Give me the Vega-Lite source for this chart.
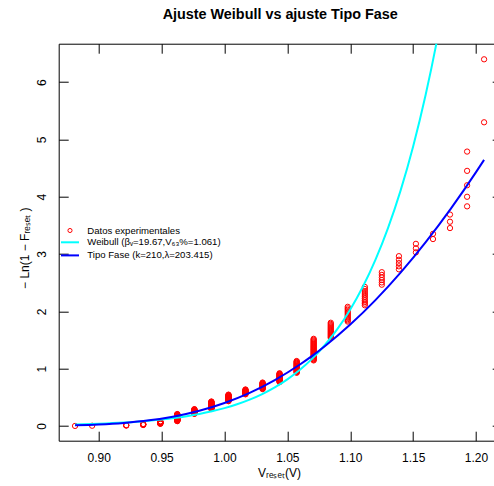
{
"$schema": "https://vega.github.io/schema/vega-lite/v6.json",
"width": 443,
"height": 397,
"autosize": "none",
"padding": {"left": 58.7, "top": 43.7, "right": 0, "bottom": 45.3},
"background": "#ffffff",
"title": {"text": "Ajuste Weibull vs ajuste Tipo Fase", "font": "Liberation Sans", "fontSize": 14.4, "fontWeight": "bold", "color": "#000000", "anchor": "middle", "frame": "group", "baseline": "alphabetic", "offset": 10.1},
"config": {
  "view": {"stroke": "#000000", "strokeWidth": 1},
  "font": "Liberation Sans",
  "axis": {"domain": false, "grid": false, "ticks": true, "tickColor": "#000000", "tickWidth": 1, "labelFont": "Liberation Sans", "labelFontSize": 12, "labelColor": "#000000", "titleFont": "Liberation Sans", "titleFontSize": 12, "titleFontWeight": "normal", "titleColor": "#000000", "labelFlush": false, "labelOverlap": false},
  "legend": {"labelFont": "Liberation Sans", "labelColor": "#000000"}
},
"datasets": {
"pts": [
{"v":0.8812,"y":0.0017},
{"v":0.8948,"y":0.0050},
{"v":0.9219,"y":0.0084},{"v":0.9219,"y":0.0117},{"v":0.9219,"y":0.0151},
{"v":0.9354,"y":0.0185},{"v":0.9354,"y":0.0219},{"v":0.9354,"y":0.0253},{"v":0.9354,"y":0.0287},{"v":0.9354,"y":0.0322},{"v":0.9354,"y":0.0356},
{"v":0.9490,"y":0.0391},{"v":0.9490,"y":0.0426},{"v":0.9490,"y":0.0460},{"v":0.9490,"y":0.0495},{"v":0.9490,"y":0.0530},{"v":0.9490,"y":0.0566},{"v":0.9490,"y":0.0601},{"v":0.9490,"y":0.0636},{"v":0.9490,"y":0.0672},{"v":0.9490,"y":0.0708},{"v":0.9490,"y":0.0744},{"v":0.9490,"y":0.0780},{"v":0.9490,"y":0.0816},
{"v":0.9625,"y":0.0852},{"v":0.9625,"y":0.0888},{"v":0.9625,"y":0.0925},{"v":0.9625,"y":0.0962},{"v":0.9625,"y":0.0998},{"v":0.9625,"y":0.1035},{"v":0.9625,"y":0.1072},{"v":0.9625,"y":0.1109},{"v":0.9625,"y":0.1147},{"v":0.9625,"y":0.1184},{"v":0.9625,"y":0.1222},{"v":0.9625,"y":0.1259},{"v":0.9625,"y":0.1297},{"v":0.9625,"y":0.1335},{"v":0.9625,"y":0.1373},{"v":0.9625,"y":0.1412},{"v":0.9625,"y":0.1450},{"v":0.9625,"y":0.1489},{"v":0.9625,"y":0.1528},{"v":0.9625,"y":0.1566},{"v":0.9625,"y":0.1606},{"v":0.9625,"y":0.1645},{"v":0.9625,"y":0.1684},{"v":0.9625,"y":0.1724},{"v":0.9625,"y":0.1763},{"v":0.9625,"y":0.1803},{"v":0.9625,"y":0.1843},{"v":0.9625,"y":0.1883},{"v":0.9625,"y":0.1924},{"v":0.9625,"y":0.1964},{"v":0.9625,"y":0.2005},{"v":0.9625,"y":0.2046},{"v":0.9625,"y":0.2087},
{"v":0.9761,"y":0.2128},{"v":0.9761,"y":0.2169},{"v":0.9761,"y":0.2211},{"v":0.9761,"y":0.2252},{"v":0.9761,"y":0.2294},{"v":0.9761,"y":0.2336},{"v":0.9761,"y":0.2378},{"v":0.9761,"y":0.2421},{"v":0.9761,"y":0.2463},{"v":0.9761,"y":0.2506},{"v":0.9761,"y":0.2549},{"v":0.9761,"y":0.2592},{"v":0.9761,"y":0.2635},{"v":0.9761,"y":0.2679},{"v":0.9761,"y":0.2722},{"v":0.9761,"y":0.2766},{"v":0.9761,"y":0.2810},{"v":0.9761,"y":0.2854},{"v":0.9761,"y":0.2899},{"v":0.9761,"y":0.2943},
{"v":0.9896,"y":0.2988},{"v":0.9896,"y":0.3033},{"v":0.9896,"y":0.3078},{"v":0.9896,"y":0.3124},{"v":0.9896,"y":0.3169},{"v":0.9896,"y":0.3215},{"v":0.9896,"y":0.3261},{"v":0.9896,"y":0.3307},{"v":0.9896,"y":0.3354},{"v":0.9896,"y":0.3401},{"v":0.9896,"y":0.3448},{"v":0.9896,"y":0.3495},{"v":0.9896,"y":0.3542},{"v":0.9896,"y":0.3590},{"v":0.9896,"y":0.3638},{"v":0.9896,"y":0.3686},{"v":0.9896,"y":0.3734},{"v":0.9896,"y":0.3783},{"v":0.9896,"y":0.3831},{"v":0.9896,"y":0.3880},{"v":0.9896,"y":0.3930},{"v":0.9896,"y":0.3979},{"v":0.9896,"y":0.4029},{"v":0.9896,"y":0.4079},{"v":0.9896,"y":0.4129},{"v":0.9896,"y":0.4180},{"v":0.9896,"y":0.4230},{"v":0.9896,"y":0.4281},
{"v":1.0032,"y":0.4333},{"v":1.0032,"y":0.4384},{"v":1.0032,"y":0.4436},{"v":1.0032,"y":0.4488},{"v":1.0032,"y":0.4540},{"v":1.0032,"y":0.4593},{"v":1.0032,"y":0.4646},{"v":1.0032,"y":0.4699},{"v":1.0032,"y":0.4753},{"v":1.0032,"y":0.4806},{"v":1.0032,"y":0.4861},{"v":1.0032,"y":0.4915},{"v":1.0032,"y":0.4970},{"v":1.0032,"y":0.5024},{"v":1.0032,"y":0.5080},{"v":1.0032,"y":0.5135},{"v":1.0032,"y":0.5191},{"v":1.0032,"y":0.5247},{"v":1.0032,"y":0.5304},{"v":1.0032,"y":0.5361},{"v":1.0032,"y":0.5418},{"v":1.0032,"y":0.5475},
{"v":1.0167,"y":0.5533},{"v":1.0167,"y":0.5591},{"v":1.0167,"y":0.5650},{"v":1.0167,"y":0.5708},{"v":1.0167,"y":0.5768},{"v":1.0167,"y":0.5827},{"v":1.0167,"y":0.5887},{"v":1.0167,"y":0.5947},{"v":1.0167,"y":0.6008},{"v":1.0167,"y":0.6069},{"v":1.0167,"y":0.6130},{"v":1.0167,"y":0.6192},{"v":1.0167,"y":0.6254},{"v":1.0167,"y":0.6317},{"v":1.0167,"y":0.6380},
{"v":1.0303,"y":0.6443},{"v":1.0303,"y":0.6507},{"v":1.0303,"y":0.6571},{"v":1.0303,"y":0.6635},{"v":1.0303,"y":0.6700},{"v":1.0303,"y":0.6766},{"v":1.0303,"y":0.6831},{"v":1.0303,"y":0.6898},{"v":1.0303,"y":0.6964},{"v":1.0303,"y":0.7031},{"v":1.0303,"y":0.7099},{"v":1.0303,"y":0.7167},{"v":1.0303,"y":0.7235},{"v":1.0303,"y":0.7304},{"v":1.0303,"y":0.7374},{"v":1.0303,"y":0.7444},{"v":1.0303,"y":0.7514},{"v":1.0303,"y":0.7585},
{"v":1.0438,"y":0.7656},{"v":1.0438,"y":0.7728},{"v":1.0438,"y":0.7801},{"v":1.0438,"y":0.7874},{"v":1.0438,"y":0.7947},{"v":1.0438,"y":0.8021},{"v":1.0438,"y":0.8096},{"v":1.0438,"y":0.8171},{"v":1.0438,"y":0.8247},{"v":1.0438,"y":0.8323},{"v":1.0438,"y":0.8400},{"v":1.0438,"y":0.8478},{"v":1.0438,"y":0.8556},{"v":1.0438,"y":0.8635},{"v":1.0438,"y":0.8714},{"v":1.0438,"y":0.8794},{"v":1.0438,"y":0.8875},{"v":1.0438,"y":0.8956},{"v":1.0438,"y":0.9038},{"v":1.0438,"y":0.9121},{"v":1.0438,"y":0.9204},
{"v":1.0574,"y":0.9288},{"v":1.0574,"y":0.9373},{"v":1.0574,"y":0.9458},{"v":1.0574,"y":0.9544},{"v":1.0574,"y":0.9631},{"v":1.0574,"y":0.9719},{"v":1.0574,"y":0.9808},{"v":1.0574,"y":0.9897},{"v":1.0574,"y":0.9987},{"v":1.0574,"y":1.0078},{"v":1.0574,"y":1.0170},{"v":1.0574,"y":1.0262},{"v":1.0574,"y":1.0356},{"v":1.0574,"y":1.0450},{"v":1.0574,"y":1.0545},{"v":1.0574,"y":1.0641},{"v":1.0574,"y":1.0738},{"v":1.0574,"y":1.0836},{"v":1.0574,"y":1.0935},{"v":1.0574,"y":1.1035},{"v":1.0574,"y":1.1136},{"v":1.0574,"y":1.1238},{"v":1.0574,"y":1.1341},
{"v":1.0709,"y":1.1445},{"v":1.0709,"y":1.1550},{"v":1.0709,"y":1.1657},{"v":1.0709,"y":1.1764},{"v":1.0709,"y":1.1873},{"v":1.0709,"y":1.1983},{"v":1.0709,"y":1.2094},{"v":1.0709,"y":1.2206},{"v":1.0709,"y":1.2320},{"v":1.0709,"y":1.2435},{"v":1.0709,"y":1.2551},{"v":1.0709,"y":1.2669},{"v":1.0709,"y":1.2788},{"v":1.0709,"y":1.2908},{"v":1.0709,"y":1.3030},{"v":1.0709,"y":1.3154},{"v":1.0709,"y":1.3279},{"v":1.0709,"y":1.3405},{"v":1.0709,"y":1.3533},{"v":1.0709,"y":1.3663},{"v":1.0709,"y":1.3795},{"v":1.0709,"y":1.3928},{"v":1.0709,"y":1.4063},{"v":1.0709,"y":1.4200},{"v":1.0709,"y":1.4339},{"v":1.0709,"y":1.4480},{"v":1.0709,"y":1.4623},{"v":1.0709,"y":1.4768},{"v":1.0709,"y":1.4915},{"v":1.0709,"y":1.5064},{"v":1.0709,"y":1.5216},
{"v":1.0845,"y":1.5370},{"v":1.0845,"y":1.5526},{"v":1.0845,"y":1.5685},{"v":1.0845,"y":1.5846},{"v":1.0845,"y":1.6010},{"v":1.0845,"y":1.6177},{"v":1.0845,"y":1.6346},{"v":1.0845,"y":1.6518},{"v":1.0845,"y":1.6694},{"v":1.0845,"y":1.6872},{"v":1.0845,"y":1.7054},{"v":1.0845,"y":1.7239},{"v":1.0845,"y":1.7428},{"v":1.0845,"y":1.7620},{"v":1.0845,"y":1.7816},{"v":1.0845,"y":1.8016},
{"v":1.0980,"y":1.8222},{"v":1.0980,"y":1.8430},{"v":1.0980,"y":1.8643},{"v":1.0980,"y":1.8860},{"v":1.0980,"y":1.9082},{"v":1.0980,"y":1.9310},{"v":1.0980,"y":1.9542},{"v":1.0980,"y":1.9780},{"v":1.0980,"y":2.0025},{"v":1.0980,"y":2.0274},{"v":1.0980,"y":2.0531},{"v":1.0980,"y":2.0794},
{"v":1.1116,"y":2.1066},{"v":1.1116,"y":2.1342},{"v":1.1116,"y":2.1628},{"v":1.1116,"y":2.1922},{"v":1.1116,"y":2.2225},{"v":1.1116,"y":2.2538},{"v":1.1116,"y":2.2860},{"v":1.1116,"y":2.3194},{"v":1.1116,"y":2.3539},{"v":1.1116,"y":2.3896},{"v":1.1116,"y":2.4267},
{"v":1.1251,"y":2.4651},{"v":1.1251,"y":2.5051},{"v":1.1251,"y":2.5468},{"v":1.1251,"y":2.5903},{"v":1.1251,"y":2.6357},{"v":1.1251,"y":2.6834},
{"v":1.1387,"y":2.7334},{"v":1.1387,"y":2.7860},{"v":1.1387,"y":2.8416},{"v":1.1387,"y":2.9004},{"v":1.1387,"y":2.9630},
{"v":1.1522,"y":3.0297},{"v":1.1522,"y":3.1011},{"v":1.1522,"y":3.1781},
{"v":1.1658,"y":3.2614},{"v":1.1658,"y":3.3524},
{"v":1.1793,"y":3.4532},{"v":1.1793,"y":3.5636},{"v":1.1793,"y":3.6889},
{"v":1.1929,"y":3.8320},{"v":1.1929,"y":3.9990},{"v":1.1929,"y":4.1997},{"v":1.1929,"y":4.4510},{"v":1.1929,"y":4.7875},
{"v":1.2064,"y":5.2983},{"v":1.2064,"y":6.3969}
],
"curves": [
{"m":"W","v":0.8812,"y":0.0259},{"m":"W","v":0.90,"y":0.0393},{"m":"W","v":0.92,"y":0.0605},{"m":"W","v":0.94,"y":0.0924},{"m":"W","v":0.95,"y":0.1138},{"m":"W","v":0.96,"y":0.1398},{"m":"W","v":0.97,"y":0.1714},{"m":"W","v":0.98,"y":0.2097},{"m":"W","v":0.99,"y":0.2561},{"m":"W","v":1.00,"y":0.3120},{"m":"W","v":1.01,"y":0.3795},{"m":"W","v":1.02,"y":0.4607},{"m":"W","v":1.03,"y":0.5581},{"m":"W","v":1.04,"y":0.6749},{"m":"W","v":1.05,"y":0.8146},{"m":"W","v":1.06,"y":0.9816},{"m":"W","v":1.07,"y":1.1807},{"m":"W","v":1.08,"y":1.4178},{"m":"W","v":1.09,"y":1.6996},{"m":"W","v":1.10,"y":2.0342},{"m":"W","v":1.11,"y":2.4304},{"m":"W","v":1.12,"y":2.8993},{"m":"W","v":1.13,"y":3.4533},{"m":"W","v":1.14,"y":4.1066},{"m":"W","v":1.15,"y":4.8764},{"m":"W","v":1.16,"y":5.7818},{"m":"W","v":1.17,"y":6.8458},{"m":"W","v":1.18,"y":8.0927},
{"m":"F","v":0.8812,"y":0.0136},{"m":"F","v":0.90,"y":0.0278},{"m":"F","v":0.92,"y":0.0546},{"m":"F","v":0.94,"y":0.0991},{"m":"F","v":0.96,"y":0.1677},{"m":"F","v":0.98,"y":0.2669},{"m":"F","v":1.00,"y":0.4024},{"m":"F","v":1.02,"y":0.5794},{"m":"F","v":1.04,"y":0.8021},{"m":"F","v":1.06,"y":1.0734},{"m":"F","v":1.07,"y":1.2279},{"m":"F","v":1.08,"y":1.3952},{"m":"F","v":1.10,"y":1.7692},{"m":"F","v":1.12,"y":2.1957},{"m":"F","v":1.14,"y":2.6754},{"m":"F","v":1.16,"y":3.2076},{"m":"F","v":1.18,"y":3.7921},{"m":"F","v":1.20,"y":4.4286},{"m":"F","v":1.2064,"y":4.6429}
]
},
"layer": [
{
  "data": {"name": "pts"},
  "mark": {"type": "point", "filled": false, "size": 28, "strokeWidth": 1, "opacity": 1},
  "encoding": {
    "x": {"field": "v", "type": "quantitative", "scale": {"domain": [0.8682, 1.2204], "nice": false, "zero": false},
      "axis": {"orient": "bottom", "values": [0.9, 0.95, 1, 1.05, 1.1, 1.15, 1.2], "format": ".2f", "tickSize": -9.5, "labelPadding": 30.1, "labelBaseline": "alphabetic", "title": "Vᵣₑₛₑₜ(V)", "titleX": 220.3, "titleY": 35.8, "titleAlign": "center", "titleBaseline": "alphabetic"}},
    "y": {"field": "y", "type": "quantitative", "scale": {"domain": [-0.2558, 6.669], "nice": false, "zero": false},
      "axis": {"orient": "left", "values": [0, 1, 2, 3, 4, 5, 6], "format": "d", "tickSize": -9.5, "labelPadding": 22.2, "labelAngle": 270, "labelAlign": "center", "labelBaseline": "alphabetic", "title": "− Ln(1 − Fᵣₑₛₑₜ )", "titleX": -30.4, "titleY": 204, "titleAngle": 270, "titleAlign": "center", "titleBaseline": "alphabetic"}},
    "color": {"datum": "Datos experimentales", "type": "nominal", "scale": {"range": ["#FF0000"]},
      "legend": {"title": null, "orient": "none", "legendX": 6.5, "legendY": 182, "padding": 0, "symbolType": "circle", "symbolSize": 17, "symbolStrokeWidth": 1, "symbolFillColor": "transparent", "labelFontSize": 9.6, "labelOffset": 12.5, "rowPadding": 2.1}}
  }
},
{
  "data": {"name": "curves"},
  "mark": {"type": "line", "strokeWidth": 2, "interpolate": "monotone", "clip": true},
  "encoding": {
    "x": {"field": "v", "type": "quantitative", "scale": {"domain": [0.8682, 1.2204], "nice": false, "zero": false},
      "axis": {"orient": "top", "values": [0.9, 0.95, 1, 1.05, 1.1, 1.15, 1.2], "labels": false, "title": null, "tickSize": -9.5}},
    "y": {"field": "y", "type": "quantitative", "scale": {"domain": [-0.2558, 6.669], "nice": false, "zero": false},
      "axis": {"orient": "right", "values": [0, 1, 2, 3, 4, 5, 6], "labels": false, "title": null, "tickSize": -9.5}},
    "stroke": {"field": "m", "type": "nominal", "scale": {"domain": ["W", "F"], "range": ["#00FFFF", "#0000FF"]},
      "legend": {"title": null, "orient": "none", "legendX": 6.5, "legendY": 193.8, "padding": 0, "symbolType": "M-4,0H4", "symbolSize": 20.25, "symbolStrokeWidth": 2, "labelFontSize": 9.6, "labelOffset": 12.5, "rowPadding": 2.1,
        "labelExpr": "datum.value == 'W' ? 'Weibull (βᵥ=19.67,V₆₃%=1.061)' : 'Tipo Fase (k=210,λ=203.415)'"}},
    "order": {"field": "v", "type": "quantitative"}
  }
}
],
"resolve": {"axis": {"x": "independent", "y": "independent"}}
}
